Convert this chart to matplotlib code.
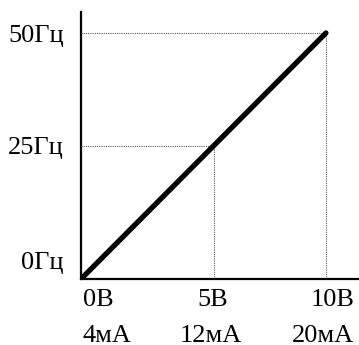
import matplotlib
matplotlib.use("Agg")
import matplotlib.pyplot as plt
import numpy as np

# Data
volts = [0, 5, 10]
freq = [0, 25, 50]
x_labels_v = ["0В", "5В", "10В"]
x_labels_ma = ["4мА", "12мА", "20мА"]
y_labels = ["0Гц", "25Гц", "50Гц"]

plt.rcParams['font.family'] = ['Liberation Serif', 'DejaVu Serif']

W, H = 359, 345
fig = plt.figure(figsize=(W/100, H/100), dpi=100)
ax = fig.add_axes([81/W, (H-279)/H, (W-81)/W, (279-12)/H])

# the schematic places the midpoint slightly past the half-way mark
xs_in, xs_out = [0, 5, 10, 100], [0, 5.42, 10, 100]
ys_in, ys_out = [0, 25, 50, 1000], [0, 27.1, 50, 1000]
ax.set_xscale('function', functions=(lambda v: np.interp(v, xs_in, xs_out),
                                     lambda v: np.interp(v, xs_out, xs_in)))
ax.set_yscale('function', functions=(lambda v: np.interp(v, ys_in, ys_out),
                                     lambda v: np.interp(v, ys_out, ys_in)))
ax.set_xlim(0, 11.35)
ax.set_ylim(0, 54.27)
for s in ['top', 'right']:
    ax.spines[s].set_visible(False)
for s in ['left', 'bottom']:
    ax.spines[s].set_linewidth(1.6)
    ax.spines[s].set_zorder(1)
ax.set_xticks([])
ax.set_yticks([])
ax.minorticks_off()
ax.patch.set_alpha(0)

# guide lines
for xv, fv in zip(volts[1:], freq[1:]):
    ax.plot([0, xv], [fv, fv], linestyle=(0, (1, 1)), color='#555555', linewidth=0.8)
    ax.plot([xv, xv], [0, fv], linestyle=(0, (1, 1)), color='#555555', linewidth=0.8)

ax.plot(volts, freq, color='black', linewidth=3.8, solid_capstyle='round',
        solid_joinstyle='round', zorder=3)

fs = 19
px = 0.72  # points per pixel
y_off = [19, 0, 0]
for i, fv in enumerate(freq):
    ax.annotate(y_labels[i], xy=(0, fv), xycoords='data', xytext=(-17*px, y_off[i]*px),
                textcoords='offset points', ha='right', va='center_baseline',
                fontsize=fs, annotation_clip=False)

v_off = [17, -1, 7]
ma_off = [26, -3, -3]
for i, xv in enumerate(volts):
    ax.annotate(x_labels_v[i], xy=(xv, 0), xycoords='data', xytext=(v_off[i]*px, -19*px),
                textcoords='offset points', ha='center', va='center_baseline', fontsize=fs,
                annotation_clip=False)
    ax.annotate(x_labels_ma[i], xy=(xv, 0), xycoords='data', xytext=(ma_off[i]*px, -54*px),
                textcoords='offset points', ha='center', va='center_baseline', fontsize=fs,
                annotation_clip=False)

fig.savefig("out.png", dpi=100)
